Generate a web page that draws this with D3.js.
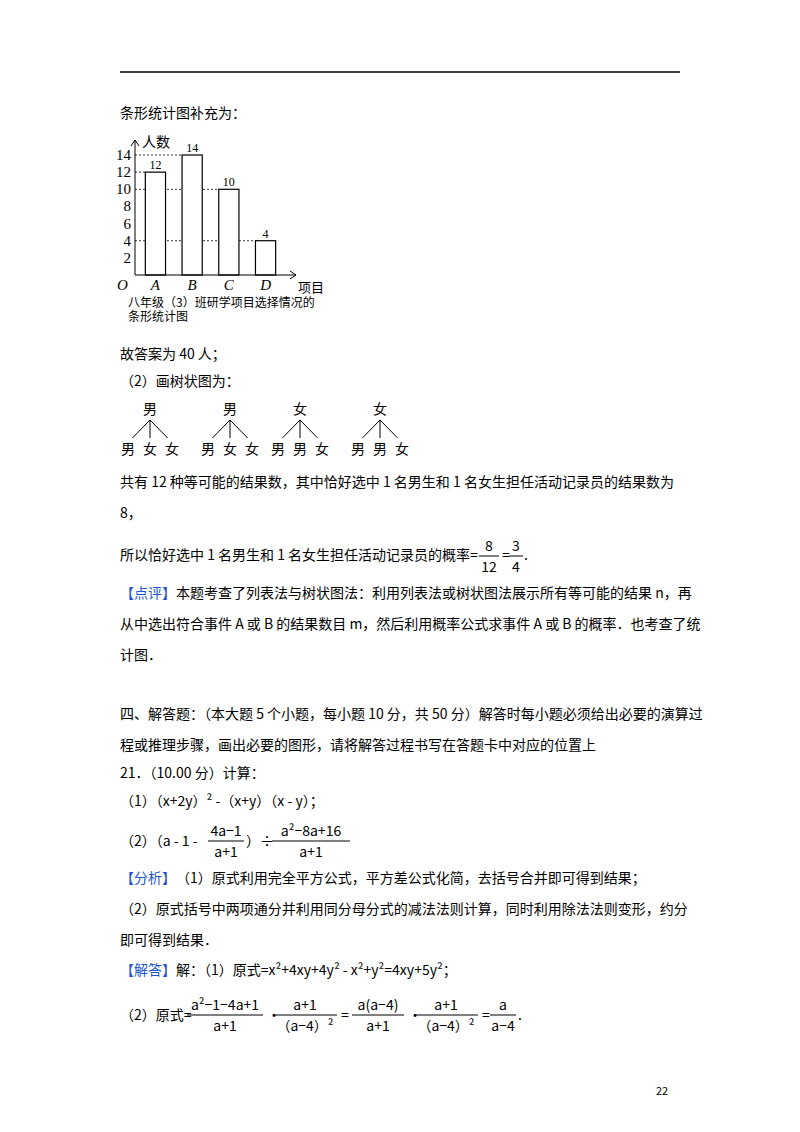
<!DOCTYPE html><html><head><meta charset="utf-8"><script src="https://cdn.jsdelivr.net/npm/d3@7"></script>
<style>body{margin:0;background:#fff}</style></head><body><svg id="s" width="800" height="1132"></svg>
<script>
const categories=["A","B","C","D"];
const values=[12,14,10,4];
const yTicks=[2,4,6,8,10,12,14];
const svg=d3.select("#s");
const F="'Noto Sans CJK SC',sans-serif";
svg.append("line").attr("x1",120).attr("x2",680).attr("y1",72).attr("y2",72).attr("stroke","#000").attr("stroke-width",1.5);
svg.append("text").attr("x",120).attr("y",118).attr("font-family",F).attr("font-size",14).text("条形统计图补充为：");
const x=d3.scaleBand().domain(categories).range([138,283]).paddingInner(0.45).paddingOuter(0.2);
const y=d3.scaleLinear().domain([0,14]).range([275,155]);
const g=svg.append("g");
const ser="'Times New Roman','Liberation Serif',serif";
[14,12,10,4].forEach(v=>{const c=categories[values.indexOf(v)];
 g.append("line").attr("x1",135).attr("x2",x(c)).attr("y1",y(v)).attr("y2",y(v)).attr("stroke","#333").attr("stroke-dasharray","2,2");});
g.selectAll("rect").data(values).join("rect").attr("x",(d,i)=>x(categories[i])).attr("width",x.bandwidth())
 .attr("y",d=>y(d)).attr("height",d=>y(0)-y(d)).attr("fill","#fff").attr("stroke","#000").attr("stroke-width",1.2);
g.selectAll(".vl").data(values).join("text").attr("x",(d,i)=>x(categories[i])+x.bandwidth()/2).attr("y",d=>y(d)-3)
 .attr("text-anchor","middle").attr("font-family",ser).attr("font-size",12).text(d=>d);
g.append("line").attr("x1",135).attr("x2",135).attr("y1",275).attr("y2",140).attr("stroke","#000");
g.append("path").attr("d","M131,146L135,140L139,146").attr("fill","none").attr("stroke","#000");
g.append("line").attr("x1",135).attr("x2",296).attr("y1",275).attr("y2",275).attr("stroke","#000");
g.append("path").attr("d","M290,271L296,275L290,279").attr("fill","none").attr("stroke","#000");
g.selectAll(".yt").data(yTicks).join("text").attr("x",131).attr("y",d=>y(d)+5).attr("text-anchor","end").attr("font-family",ser).attr("font-size",15).text(d=>d);
g.append("text").attr("x",117).attr("y",290).attr("font-family",ser).attr("font-style","italic").attr("font-size",15).text("O");
g.selectAll(".xt").data(categories).join("text").attr("x",d=>x(d)+x.bandwidth()/2).attr("y",290).attr("text-anchor","middle").attr("font-family",ser).attr("font-style","italic").attr("font-size",15).text(d=>d);
g.append("text").attr("x",142).attr("y",147).attr("font-family",F).attr("font-size",14).text("人数");
g.append("text").attr("x",298).attr("y",292).attr("font-family",F).attr("font-size",13).text("项目");
g.append("text").attr("x",128).attr("y",307).attr("font-family",F).attr("font-size",12).text("八年级（3）班研学项目选择情况的");
g.append("text").attr("x",128).attr("y",321).attr("font-family",F).attr("font-size",12).text("条形统计图");
const T=(t,xx,yy,col,anchor)=>svg.append("text").attr("x",xx).attr("y",yy).attr("font-family",F).attr("font-size",14).attr("fill",col||"#000").attr("text-anchor",anchor||"start").text(t);
const FR=(n,d,cx,ly,w)=>{T(n,cx,ly-5,null,"middle");svg.append("line").attr("x1",cx-w/2).attr("x2",cx+w/2).attr("y1",ly).attr("y2",ly).attr("stroke","#000");T(d,cx,ly+16,null,"middle");};
T("故答案为 40 人；",120,359);
T("（2）画树状图为：",120,386);
const trees=[["男",["男","女","女"]],["男",["男","女","女"]],["女",["男","男","女"]],["女",["男","男","女"]]];
const tx=[150,230,300,380];
trees.forEach((t,i)=>{const cx=tx[i];T(t[0],cx,414,null,"middle");
 [-22,0,22].forEach((dx,j)=>{svg.append("line").attr("x1",cx).attr("y1",420).attr("x2",cx+dx*0.8).attr("y2",438).attr("stroke","#000");
 T(t[1][j],cx+dx,454,null,"middle");});});
T("共有 12 种等可能的结果数，其中恰好选中 1 名男生和 1 名女生担任活动记录员的结果数为",120,487);
T("8，",120,518);
T("所以恰好选中 1 名男生和 1 名女生担任活动记录员的概率=",120,560);
FR("8","12",489,556,20);T("=",502,560);FR("3","4",516,556,14);T(".",524,560);
T("【点评】",120,598,"#2255cc");
T("本题考查了列表法与树状图法：利用列表法或树状图法展示所有等可能的结果 n，再",176,598);
T("从中选出符合事件 A 或 B 的结果数目 m，然后利用概率公式求事件 A 或 B 的概率．也考查了统",120,629);
T("计图．",120,660);
T("四、解答题：（本大题 5 个小题，每小题 10 分，共 50 分）解答时每小题必须给出必要的演算过",120,719);
T("程或推理步骤，画出必要的图形，请将解答过程书写在答题卡中对应的位置上",120,750);
T("21．（10.00 分）计算：",120,778);
T("（1）（x+2y）² -（x+y）（x - y）；",120,806);
T("（2）（a - 1 -",120,846);
FR("4a−1","a+1",226,841,36);T("）÷",246,846);
FR("a²−8a+16","a+1",311,841,78);
T("【分析】",120,883,"#2255cc");
T("（1）原式利用完全平方公式，平方差公式化简，去括号合并即可得到结果；",176,883);
T("（2）原式括号中两项通分并利用同分母分式的减法法则计算，同时利用除法法则变形，约分",120,914);
T("即可得到结果．",120,945);
T("【解答】",120,975,"#2255cc");
T("解：（1）原式=x²+4xy+4y² - x²+y²=4xy+5y²；",176,975);
T("（2）原式=",120,1020);
FR("a²−1−4a+1","a+1",225,1015,76);T("•",267,1020);
FR("a+1","（a−4）²",305,1015,64);T("=",341,1020);
FR("a(a−4)","a+1",378,1015,52);T("•",408,1020);
FR("a+1","（a−4）²",446,1015,64);T("=",482,1020);
FR("a","a−4",503,1015,26);T(".",518,1020);
T("22",656,1095).attr("font-size",11);
</script></body></html>
